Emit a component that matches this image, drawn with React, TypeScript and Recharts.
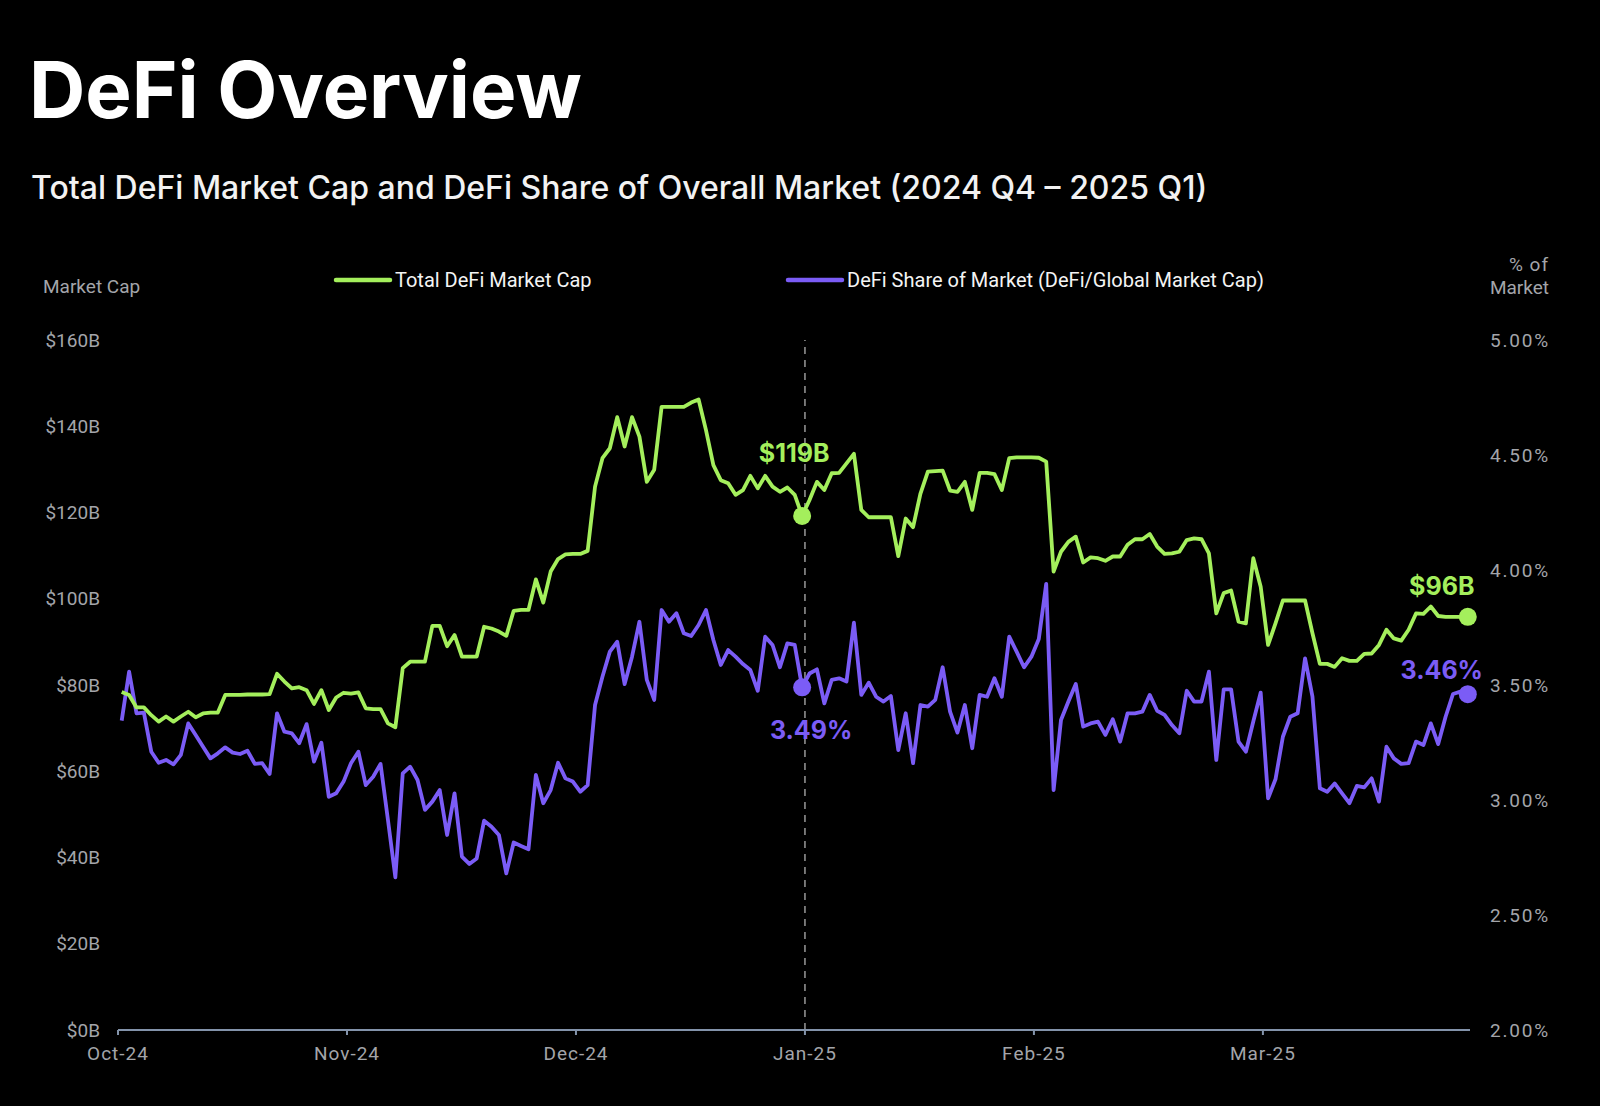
import React from 'react';
import { LineChart, Line, XAxis, YAxis, ReferenceLine } from 'recharts';

// Daily observations, day 0 = 2024-10-01 ... day 182 = 2025-03-31
const marketCap: number[] = [
  78.4, 77.7, 74.8, 74.8, 73.0, 71.5, 72.7, 71.5, 72.7, 73.8,
  72.5, 73.4, 73.6, 73.6, 77.7, 77.7, 77.7, 77.8, 77.8, 77.8,
  77.9, 82.6, 80.8, 79.2, 79.5, 78.8, 75.6, 78.8, 74.2, 77.1,
  78.2, 78.0, 78.3, 74.6, 74.4, 74.4, 71.1, 70.2, 83.9, 85.4,
  85.4, 85.4, 93.7, 93.7, 89.0, 91.6, 86.6, 86.6, 86.6, 93.5,
  93.1, 92.4, 91.4, 97.2, 97.4, 97.4, 104.5, 99.1, 106.3, 109.2,
  110.3, 110.4, 110.4, 111.1, 126.0, 132.6, 134.9, 142.1, 135.3, 142.1,
  137.6, 127.1, 129.9, 144.5, 144.5, 144.5, 144.5, 145.5, 146.2, 139.1,
  131.0, 127.5, 126.8, 124.1, 125.2, 128.5, 125.6, 128.5, 126.0, 124.8,
  125.8, 124.1, 119.2, 122.9, 127.1, 125.2, 129.1, 129.2, 131.4, 133.6,
  120.6, 118.9, 118.9, 118.9, 118.9, 109.9, 118.6, 116.6, 124.4, 129.5,
  129.6, 129.7, 125.1, 124.8, 127.1, 120.6, 129.2, 129.2, 128.9, 125.2,
  132.6, 132.8, 132.8, 132.8, 132.7, 131.8, 106.3, 110.9, 113.2, 114.4,
  108.4, 109.6, 109.4, 108.8, 109.8, 109.8, 112.5, 113.8, 113.8, 115.0,
  112.1, 110.4, 110.5, 110.9, 113.6, 114.0, 113.8, 110.5, 96.6, 101.3,
  101.9, 94.7, 94.3, 109.4, 102.8, 89.3, 94.3, 99.6, 99.6, 99.6,
  99.6, 92.0, 84.9, 84.9, 84.2, 86.2, 85.6, 85.6, 87.2, 87.3,
  89.3, 92.8, 90.8, 90.3, 92.8, 96.6, 96.5, 98.2, 96.0, 95.8,
  95.8, 95.8, 95.8,
];

const defiShare: number[] = [
  3.345, 3.558, 3.377, 3.380, 3.210, 3.162, 3.174, 3.155, 3.196, 3.333,
  3.283, 3.232, 3.181, 3.203, 3.229, 3.206, 3.200, 3.214, 3.157, 3.160,
  3.113, 3.377, 3.297, 3.290, 3.247, 3.330, 3.167, 3.249, 3.014, 3.029,
  3.080, 3.160, 3.210, 3.065, 3.101, 3.157, 2.913, 2.664, 3.116, 3.145,
  3.087, 2.957, 2.993, 3.043, 2.848, 3.029, 2.754, 2.722, 2.746, 2.910,
  2.884, 2.848, 2.681, 2.815, 2.800, 2.786, 3.109, 2.986, 3.043, 3.162,
  3.094, 3.080, 3.036, 3.065, 3.413, 3.536, 3.645, 3.688, 3.504, 3.623,
  3.775, 3.522, 3.435, 3.826, 3.775, 3.812, 3.725, 3.713, 3.761, 3.826,
  3.696, 3.587, 3.652, 3.623, 3.591, 3.565, 3.475, 3.710, 3.674, 3.577,
  3.681, 3.674, 3.490, 3.550, 3.568, 3.420, 3.522, 3.529, 3.515, 3.771,
  3.457, 3.510, 3.449, 3.428, 3.452, 3.217, 3.377, 3.160, 3.413, 3.406,
  3.435, 3.577, 3.384, 3.293, 3.413, 3.225, 3.457, 3.449, 3.529, 3.449,
  3.710, 3.645, 3.577, 3.623, 3.700, 3.940, 3.043, 3.348, 3.428, 3.504,
  3.319, 3.333, 3.341, 3.283, 3.351, 3.254, 3.377, 3.377, 3.384, 3.457,
  3.388, 3.370, 3.326, 3.290, 3.475, 3.428, 3.428, 3.558, 3.174, 3.481,
  3.481, 3.254, 3.210, 3.341, 3.467, 3.007, 3.090, 3.275, 3.362, 3.377,
  3.616, 3.449, 3.051, 3.036, 3.072, 3.029, 2.986, 3.061, 3.055, 3.094,
  2.993, 3.232, 3.181, 3.157, 3.160, 3.254, 3.239, 3.333, 3.243, 3.362,
  3.461, 3.471, 3.460,
];

const monthLabels: string[] = ['Oct-24', 'Nov-24', 'Dec-24', 'Jan-25', 'Feb-25', 'Mar-25'];
// month ticks are evenly spaced along the axis in the source chart
const monthTickPos: number[] = [-0.5, 30.46, 61.42, 92.38, 123.34, 154.3];
const capTicks: number[] = [0, 20, 40, 60, 80, 100, 120, 140, 160];
const shareTicks: number[] = [2, 2.5, 3, 3.5, 4, 4.5, 5];
const highlightDays: number[] = [92, 182];

const GREEN = '#a4ef5c';
const PURPLE = '#7b5cf6';
const AXIS_TEXT = '#a3a5aa';

const data = marketCap.map((v, i) => ({ day: i, cap: v, share: defiShare[i] }));

const legendItems = [
  { name: 'Total DeFi Market Cap', color: GREEN, x: 336 },
  { name: 'DeFi Share of Market (DeFi/Global Market Cap)', color: PURPLE, x: 788 },
];

const capLabelOffset: Record<number, [number, number]> = { 92: [-8, -63], 182: [-26, -31] };
const shareLabelOffset: Record<number, [number, number]> = { 92: [9, 43], 182: [-26, -24] };

const makeDot = (
  color: string,
  fmt: (v: number) => string,
  offsets: Record<number, [number, number]>
) => (props: any) => {
  const { cx, cy, index, value } = props;
  if (!highlightDays.includes(index) || cx == null || cy == null) {
    return <g key={`d-${index}`} />;
  }
  const [dx, dy] = offsets[index] || [0, -30];
  const v = Array.isArray(value) ? value[1] : value;
  return (
    <g key={`d-${index}`}>
      <circle cx={cx} cy={cy} r={9} fill={color} />
      <text
        x={cx + dx}
        y={cy + dy}
        textAnchor="middle"
        dominantBaseline="central"
        fill={color}
        fontFamily="Inter, 'Noto Sans', sans-serif"
        fontWeight={700}
        fontSize={25}
      >
        {fmt(v)}
      </text>
    </g>
  );
};

const capDot = makeDot(GREEN, (v) => `$${Math.round(v)}B`, capLabelOffset);
const shareDot = makeDot(PURPLE, (v) => `${v.toFixed(2)}%`, shareLabelOffset);

export default function App() {
  const tickFont = { fill: AXIS_TEXT, fontSize: 19, fontFamily: 'Roboto, Arial, sans-serif' };
  const xTickFont = { ...tickFont, letterSpacing: 1 };
  const rightTickFont = { ...tickFont, letterSpacing: 1.8 };
  return (
    <div
      style={{
        position: 'absolute',
        left: 0,
        top: 0,
        width: 1600,
        height: 1106,
        background: '#000',
        overflow: 'hidden',
      }}
    >
      <div style={{ position: 'absolute', left: 0, top: 0 }}>
        <LineChart
          width={1600}
          height={1106}
          data={data}
          margin={{ top: 340, right: 0, bottom: 36, left: 0 }}
        >
          <XAxis
            dataKey="day"
            type="number"
            domain={[-0.5, 182.3]}
            ticks={monthTickPos}
            tickFormatter={(v: number) => monthLabels[monthTickPos.indexOf(v)] ?? ''}
            axisLine={{ stroke: '#8393aa', strokeWidth: 2 }}
            tickLine={{ stroke: '#8393aa', strokeWidth: 2 }}
            tickSize={5}
            tickMargin={12}
            height={40}
            tick={xTickFont}
            interval={0}
          />
          <YAxis
            yAxisId="cap"
            orientation="left"
            width={118}
            domain={[0, 160]}
            ticks={capTicks}
            tickFormatter={(v: number) => `$${v}B`}
            axisLine={false}
            tickLine={false}
            tickSize={0}
            tickMargin={18}
            tick={tickFont}
            interval={0}
          />
          <YAxis
            yAxisId="share"
            orientation="right"
            width={130}
            domain={[2, 5]}
            ticks={shareTicks}
            tickFormatter={(v: number) => `${v.toFixed(2)}%`}
            axisLine={false}
            tickLine={false}
            tickSize={0}
            tickMargin={20}
            tick={rightTickFont}
            interval={0}
          />
          <ReferenceLine
            yAxisId="cap"
            x={monthTickPos[3]}
            stroke="#8f8f8f"
            strokeWidth={1.6}
            strokeDasharray="7 6"
          />
          <Line
            yAxisId="share"
            type="linear"
            dataKey="share"
            name="DeFi Share of Market (DeFi/Global Market Cap)"
            stroke={PURPLE}
            strokeWidth={3.8}
            strokeLinejoin="round"
            dot={shareDot}
            activeDot={false}
            isAnimationActive={false}
          />
          <Line
            yAxisId="cap"
            type="linear"
            dataKey="cap"
            name="Total DeFi Market Cap"
            stroke={GREEN}
            strokeWidth={3.8}
            strokeLinejoin="round"
            dot={capDot}
            activeDot={false}
            isAnimationActive={false}
          />
        </LineChart>
      </div>
      <svg
        width={1600}
        height={330}
        style={{ position: 'absolute', left: 0, top: 0, pointerEvents: 'none' }}
      >
        <text
          x={29}
          y={118}
          fill="#ffffff"
          fontFamily="Inter, 'Noto Sans', sans-serif"
          fontWeight={700}
          fontSize={78}
        >
          DeFi Overview
        </text>
        <text
          x={31}
          y={199}
          fill="#f2f2f2"
          fontFamily="Inter, 'Noto Sans', sans-serif"
          fontWeight={500}
          fontSize={32}
        >
          Total DeFi Market Cap and DeFi Share of Overall Market (2024 Q4 – 2025 Q1)
        </text>
        <text x={43} y={293} fill={AXIS_TEXT} fontFamily="Roboto, Arial, sans-serif" fontSize={19}>
          Market Cap
        </text>
        <text
          x={1549}
          y={271}
          textAnchor="end"
          fill={AXIS_TEXT}
          fontFamily="Roboto, Arial, sans-serif"
          fontSize={19}
          letterSpacing={1}
        >
          % of
        </text>
        <text
          x={1549}
          y={294}
          textAnchor="end"
          fill={AXIS_TEXT}
          fontFamily="Roboto, Arial, sans-serif"
          fontSize={19}
        >
          Market
        </text>
        {legendItems.map((it) => (
          <g key={it.name}>
            <line
              x1={it.x}
              y1={280}
              x2={it.x + 54}
              y2={280}
              stroke={it.color}
              strokeWidth={4.5}
              strokeLinecap="round"
            />
            <text
              x={it.x + 59}
              y={287}
              fill="#f4f4f4"
              fontFamily="Roboto, Arial, sans-serif"
              fontSize={20}
            >
              {it.name}
            </text>
          </g>
        ))}
      </svg>
    </div>
  );
}
